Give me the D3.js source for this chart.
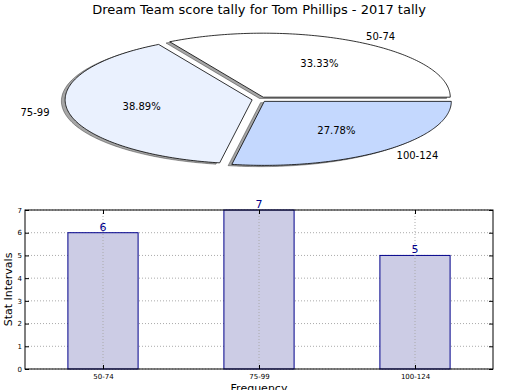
<!DOCTYPE html>
<html>
<head>
<meta charset="utf-8">
<script src="https://cdn.jsdelivr.net/npm/d3@7"></script>
<style>
  body { margin: 0; background: #fff; }
  svg { display: block; font-family: "DejaVu Sans", sans-serif; }
</style>
</head>
<body>
<div id="chart"></div>
<script>
// score intervals and how many games fell in each
const intervals = ['50-74', '75-99', '100-124'];
const counts = [6, 7, 5];
const pieColors = ['#ffffff', '#eaf1fe', '#c4d8fe'];
const yTicks = [0, 1, 2, 3, 4, 5, 6, 7];

const title = 'Dream Team score tally for Tom Phillips - 2017 tally';

const W = 520, H = 390;

const svg = d3.select('#chart').append('svg')
    .attr('width', W)
    .attr('height', H);

svg.append('text')
    .attr('x', 259)
    .attr('y', 14)
    .attr('text-anchor', 'middle')
    .style('font-size', '13px')
    .text(title);

// ---- pie (stretched into an ellipse, like a non-equal aspect axes) ----
const pie = {cx: 259.5, cy: 99.4, rx: 187, ry: 64, explode: 0.04};
const total = d3.sum(counts);

// angles in maths convention (counter clockwise from +x, degrees)
let start = 0;
const wedges = counts.map((c, i) => {
    const span = c / total * 360;
    const w = {i: i, a0: start, a1: start + span, am: start + span / 2};
    start += span;
    return w;
});

function ellPt(cx, cy, a, r) {
    const t = a * Math.PI / 180;
    return [cx + r * pie.rx * Math.cos(t), cy - r * pie.ry * Math.sin(t)];
}

function wedgePath(cx, cy, a0, a1) {
    const pts = d3.range(0, 121).map(k => ellPt(cx, cy, a0 + (a1 - a0) * k / 120, 1));
    return 'M' + cx + ',' + cy + 'L' + pts.map(p => p.join(',')).join('L') + 'Z';
}

const pieG = svg.append('g').attr('class', 'pie');

wedges.forEach(w => {
    const off = ellPt(0, 0, w.am, pie.explode);
    w.x = pie.cx + off[0];
    w.y = pie.cy + off[1];
});

// shadows first
wedges.forEach(w => {
    pieG.append('path')
        .attr('d', wedgePath(w.x - 0.02 * pie.rx, w.y + 0.02 * pie.ry, w.a0, w.a1))
        .attr('fill', '#4d4d4d')
        .attr('fill-opacity', 0.5)
        .attr('stroke', '#000')
        .attr('stroke-opacity', 0.35)
        .attr('stroke-width', 1);
});

wedges.forEach(w => {
    pieG.append('path')
        .attr('d', wedgePath(w.x, w.y, w.a0, w.a1))
        .attr('fill', pieColors[w.i])
        .attr('stroke', '#000')
        .attr('stroke-width', 0.8);

    const lp = ellPt(w.x, w.y, w.am, 1.1);
    const cosm = Math.cos(w.am * Math.PI / 180);
    pieG.append('text')
        .attr('x', lp[0])
        .attr('y', lp[1])
        .attr('dy', '0.35em')
        .attr('text-anchor', cosm > 0 ? 'start' : 'end')
        .style('font-size', '10px')
        .text(intervals[w.i]);

    const pp = ellPt(w.x, w.y, w.am, 0.6);
    pieG.append('text')
        .attr('x', pp[0])
        .attr('y', pp[1])
        .attr('dy', '0.35em')
        .attr('text-anchor', 'middle')
        .style('font-size', '10px')
        .text((counts[w.i] / total * 100).toFixed(2) + '%');
});

// ---- bar chart ----
const box = {left: 25, right: 493, top: 210, bottom: 369};

const x = d3.scaleLinear().domain([-0.5, intervals.length - 0.5]).range([box.left, box.right]);
const y = d3.scaleLinear().domain([0, 7]).range([box.bottom, box.top]);
const barW = x(0.45) - x(0);

const barG = svg.append('g').attr('class', 'bars');

// horizontal grid sits under the bars
barG.append('g')
    .selectAll('line')
    .data(yTicks)
    .join('line')
    .attr('x1', box.left).attr('x2', box.right)
    .attr('y1', d => y(d)).attr('y2', d => y(d))
    .attr('stroke', '#aaa')
    .attr('stroke-width', 1)
    .attr('stroke-dasharray', '1,2');

barG.append('g')
    .selectAll('rect')
    .data(counts)
    .join('rect')
    .attr('x', (d, i) => x(i) - barW / 2)
    .attr('y', d => y(d))
    .attr('width', barW)
    .attr('height', d => y(0) - y(d))
    .attr('fill', '#ccccE5')
    .attr('stroke', '#00008b')
    .attr('stroke-width', 1);

// vertical grid shows over the bars
barG.append('g')
    .selectAll('line')
    .data(intervals)
    .join('line')
    .attr('x1', (d, i) => x(i)).attr('x2', (d, i) => x(i))
    .attr('y1', box.top).attr('y2', box.bottom)
    .attr('stroke', '#aaa')
    .attr('stroke-width', 1)
    .attr('stroke-dasharray', '1,2');

barG.append('rect')
    .attr('x', box.left).attr('y', box.top)
    .attr('width', box.right - box.left)
    .attr('height', box.bottom - box.top)
    .attr('fill', 'none')
    .attr('stroke', '#000')
    .attr('stroke-width', 1);

// axes with inward ticks on all four sides
const yAxis = d3.axisLeft(y).tickValues(yTicks).tickFormat(d3.format('d')).tickSize(-4).tickPadding(3);
const gY = barG.append('g')
    .attr('transform', 'translate(' + box.left + ',0)')
    .call(yAxis);
gY.select('.domain').remove();

const yAxisR = d3.axisRight(y).tickValues(yTicks).tickSize(-4).tickFormat('');
const gYR = barG.append('g')
    .attr('transform', 'translate(' + box.right + ',0)')
    .call(yAxisR);
gYR.select('.domain').remove();

const xAxis = d3.axisBottom(x).tickValues(d3.range(intervals.length))
    .tickFormat(i => intervals[i]).tickSize(-4).tickPadding(5);
const gX = barG.append('g')
    .attr('transform', 'translate(0,' + box.bottom + ')')
    .call(xAxis);
gX.select('.domain').remove();

const xAxisT = d3.axisTop(x).tickValues(d3.range(intervals.length)).tickSize(-4).tickFormat('');
const gXT = barG.append('g')
    .attr('transform', 'translate(0,' + box.top + ')')
    .call(xAxisT);
gXT.select('.domain').remove();

barG.selectAll('.tick text')
    .style('font-family', '"DejaVu Sans", sans-serif')
    .style('font-size', '7px')
    .attr('fill', '#000');
barG.selectAll('.tick line').attr('stroke', '#000');

barG.append('g')
    .selectAll('text')
    .data(counts)
    .join('text')
    .attr('x', (d, i) => x(i))
    .attr('y', d => y(d) - 2)
    .attr('text-anchor', 'middle')
    .attr('fill', '#00008b')
    .style('font-size', '11px')
    .text(d => d);

svg.append('text')
    .attr('transform', 'translate(12,' + ((box.top + box.bottom) / 2) + ') rotate(-90)')
    .attr('text-anchor', 'middle')
    .style('font-size', '11px')
    .text('Stat Intervals');

// the reference crops this label at the bottom edge
svg.append('text')
    .attr('x', (box.left + box.right) / 2)
    .attr('y', 392)
    .attr('text-anchor', 'middle')
    .style('font-size', '11px')
    .text('Frequency');
</script>
</body>
</html>
